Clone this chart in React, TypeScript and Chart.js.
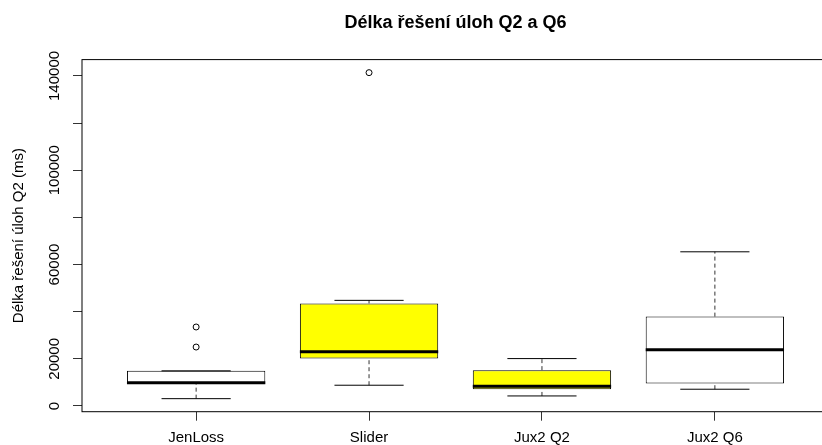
import React, { useEffect, useRef } from 'react';
import { Chart, registerables } from 'chart.js';

Chart.register(...registerables);

// ---- data ----
const categories = ['JenLoss', 'Slider', 'Jux2 Q2', 'Jux2 Q6'];
const lowerWhisker = [3100, 8800, 4250, 7100];
const q1 = [9300, 20100, 7100, 9500];
const median = [9800, 23000, 8400, 23800];
const q3 = [14900, 43500, 15200, 37900];
const upperWhisker = [14900, 44800, 20100, 65400];
const outliers = [[25000, 33500], [141400], [], []];
const boxFills = ['#FFFFFF', '#FFFF00', '#FFFF00', '#FFFFFF'];
const yTickValues = [0, 20000, 40000, 60000, 80000, 100000, 120000, 140000];
const yTickLabels = ['0', '20000', '', '60000', '', '100000', '', '140000'];
const titleText = 'Délka řešení úloh Q2 a Q6';
const yTitleText = 'Délka řešení úloh Q2 (ms)';

const FONT = "'Liberation Sans', Arial, Helvetica, sans-serif";

const allValues = [...lowerWhisker, ...upperWhisker, ...outliers.flat()];
const dataLo = Math.min(...allValues);
const dataHi = Math.max(...allValues);
const yPad = (dataHi - dataLo) * 0.04;
const xPad = categories.length * 0.04;

const framePlugin = {
  id: 'rframe',
  afterDatasetsDraw(chart: any) {
    const { ctx, chartArea } = chart;
    ctx.save();
    ctx.strokeStyle = '#000';
    ctx.lineWidth = 1;
    ctx.strokeRect(chartArea.left, chartArea.top, chartArea.right - chartArea.left, chartArea.bottom - chartArea.top);
    ctx.restore();
  },
};

export default function App() {
  const ref = useRef<HTMLCanvasElement>(null);

  useEffect(() => {
    const canvas = ref.current;
    if (!canvas) return;

    const boxData = categories.map((_, i) => ({ x: i + 1, y: [q1[i], q3[i]] }));
    const medianData = categories.flatMap((_, i) => [
      { x: i + 1 - 0.4, y: median[i] },
      { x: i + 1 + 0.4, y: median[i] },
      { x: i + 1.5, y: null },
    ]);
    const capData = categories.flatMap((_, i) => [
      { x: i + 1 - 0.2, y: upperWhisker[i] },
      { x: i + 1 + 0.2, y: upperWhisker[i] },
      { x: i + 1, y: null },
      { x: i + 1 - 0.2, y: lowerWhisker[i] },
      { x: i + 1 + 0.2, y: lowerWhisker[i] },
      { x: i + 1, y: null },
    ]);
    const whiskerData = categories.flatMap((_, i) => [
      { x: i + 1, y: q3[i] },
      { x: i + 1, y: upperWhisker[i] },
      { x: i + 1, y: null },
      { x: i + 1, y: lowerWhisker[i] },
      { x: i + 1, y: q1[i] },
      { x: i + 1, y: null },
    ]);
    const outlierData = outliers.flatMap((arr, i) => arr.map((v) => ({ x: i + 1, y: v })));

    const chart = new Chart(canvas, {
      type: 'bar',
      data: {
        datasets: [
          {
            type: 'line',
            data: medianData as any,
            borderColor: '#000',
            borderWidth: 3,
            pointRadius: 0,
            spanGaps: false,
            order: 0,
          } as any,
          {
            type: 'line',
            data: outlierData as any,
            showLine: false,
            pointStyle: 'circle',
            pointRadius: 3,
            pointBorderColor: '#000',
            pointBackgroundColor: 'rgba(0,0,0,0)',
            pointBorderWidth: 1,
            order: 0,
          } as any,
          {
            type: 'line',
            data: capData as any,
            borderColor: '#000',
            borderWidth: 1,
            pointRadius: 0,
            spanGaps: false,
            order: 1,
          } as any,
          {
            type: 'line',
            data: whiskerData as any,
            borderColor: '#333',
            borderWidth: 1,
            borderDash: [4, 3],
            pointRadius: 0,
            spanGaps: false,
            order: 2,
          } as any,
          {
            type: 'bar',
            data: boxData as any,
            backgroundColor: boxFills,
            borderColor: '#000',
            borderWidth: 1,
            borderSkipped: false,
            categoryPercentage: 0.8,
            barPercentage: 1,
            order: 3,
          } as any,
        ],
      },
      options: {
        responsive: false,
        animation: false,
        devicePixelRatio: 1,
        events: [],
        layout: { padding: 0 },
        plugins: {
          legend: { display: false },
          tooltip: { enabled: false },
          title: {
            display: true,
            text: titleText,
            fullSize: false,
            color: '#000',
            font: { family: FONT, size: 18, weight: 'bold' },
            padding: { top: 12, bottom: 26 },
          },
        },
        scales: {
          x: {
            type: 'linear',
            min: 0.5 - xPad,
            max: categories.length + 0.5 + xPad,
            offset: false,
            afterBuildTicks: (s: any) => {
              s.ticks = categories.map((_, i) => ({ value: i + 1 }));
            },
            afterFit: (s: any) => {
              s.height = 33.3;
            },
            ticks: {
              callback: (v: any) => categories[Math.round(Number(v)) - 1] ?? '',
              autoSkip: false,
              minRotation: 0,
              maxRotation: 0,
              padding: 8,
              color: '#000',
              font: { family: FONT, size: 15 },
            },
            grid: {
              display: true,
              offset: false,
              drawOnChartArea: false,
              drawTicks: true,
              tickLength: 9,
              color: '#333',
            },
            border: { display: false },
          },
          y: {
            type: 'linear',
            min: dataLo - yPad,
            max: dataHi + yPad,
            afterBuildTicks: (s: any) => {
              s.ticks = yTickValues.map((v) => ({ value: v }));
            },
            afterFit: (s: any) => {
              s.width = 82;
            },
            ticks: {
              callback: (v: any) => yTickLabels[yTickValues.indexOf(Number(v))] ?? '',
              autoSkip: false,
              minRotation: 90,
              maxRotation: 90,
              crossAlign: 'center',
              padding: -6.5,
              color: '#000',
              font: { family: FONT, size: 15 },
            },
            grid: {
              display: true,
              drawOnChartArea: false,
              drawTicks: true,
              tickLength: 9,
              color: '#333',
            },
            border: { display: false },
            title: {
              display: true,
              text: yTitleText,
              color: '#000',
              font: { family: FONT, size: 15 },
              padding: { top: 10, bottom: 0 },
            },
          },
        },
      } as any,
      plugins: [framePlugin],
    });

    return () => chart.destroy();
  }, []);

  return (
    <div
      style={{
        position: 'absolute',
        left: 0,
        top: 0,
        width: 822,
        height: 445,
        overflow: 'hidden',
        background: '#fff',
      }}
    >
      <canvas ref={ref} width={834} height={445} style={{ display: 'block', width: 834, height: 445 }} />
    </div>
  );
}
